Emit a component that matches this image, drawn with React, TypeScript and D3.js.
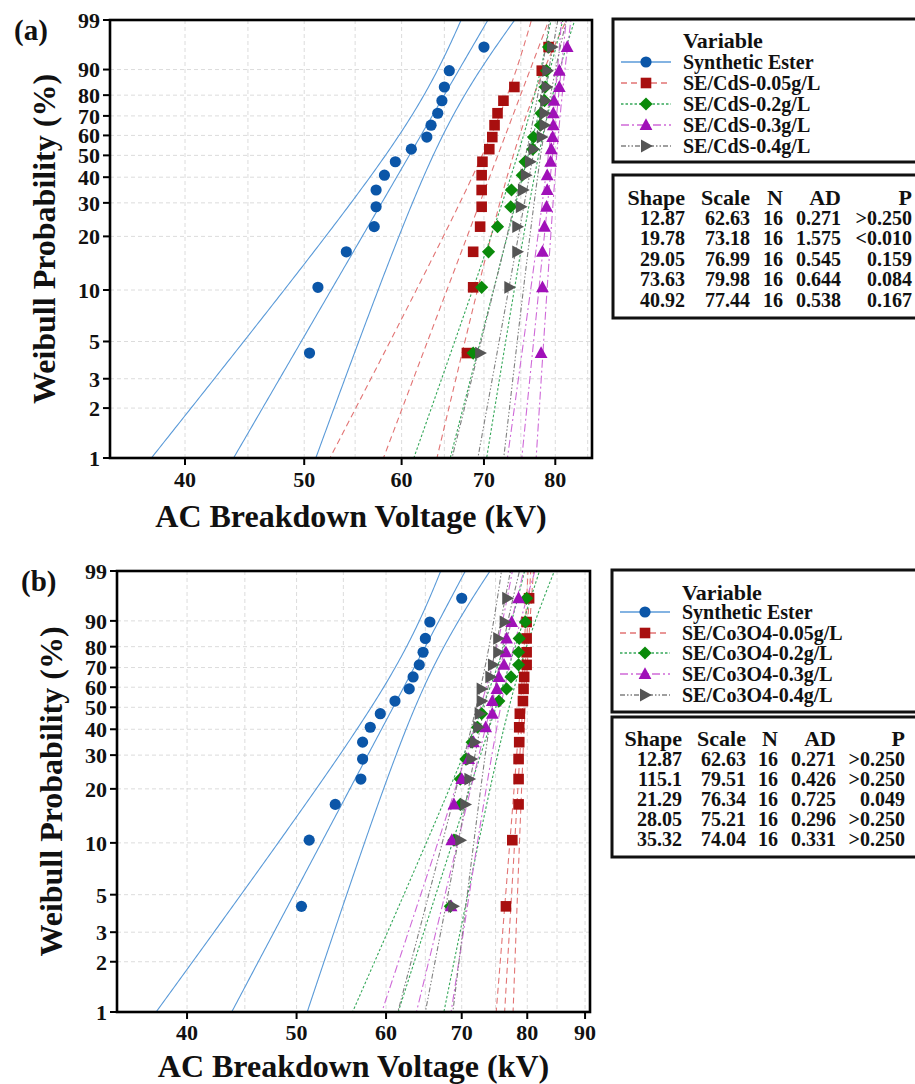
import React from 'react';
import * as d3 from 'd3';

// ---------- data ----------
const probTicks = [1, 2, 3, 5, 10, 20, 30, 40, 50, 60, 70, 80, 90, 99];
const xTicksA = [40, 50, 60, 70, 80];
const xTicksB = [40, 50, 60, 70, 80, 90];
const gridA = [40, 45, 50, 55, 60, 65, 70, 75, 80, 85];
const gridB = [40, 45, 50, 55, 60, 65, 70, 75, 80, 85, 90];

const namesA = ['Synthetic Ester', 'SE/CdS-0.05g/L', 'SE/CdS-0.2g/L', 'SE/CdS-0.3g/L', 'SE/CdS-0.4g/L'];
const namesB = ['Synthetic Ester', 'SE/Co3O4-0.05g/L', 'SE/Co3O4-0.2g/L', 'SE/Co3O4-0.3g/L', 'SE/Co3O4-0.4g/L'];

// breakdown voltages (kV), 16 shots each, sorted
const synthEster = [50.5, 51.3, 54.1, 57.0, 57.2, 57.2, 58.1, 59.3, 61.1, 62.9, 63.4, 64.2, 64.7, 65.0, 65.6, 70.0];
const cds005 = [67.8, 68.6, 68.6, 69.5, 69.7, 69.7, 69.7, 69.8, 70.7, 71.1, 71.4, 71.8, 72.6, 74.1, 78.0, 79.0];
const cds02 = [68.6, 69.7, 70.6, 71.8, 73.6, 73.7, 75.2, 75.6, 76.7, 76.8, 77.8, 77.9, 78.4, 78.5, 78.7, 79.0];
const cds03 = [77.9, 78.1, 78.1, 78.4, 78.7, 78.8, 78.8, 79.3, 79.4, 79.6, 79.7, 79.7, 79.8, 80.6, 80.6, 81.8];
const cds04 = [69.5, 73.4, 74.5, 74.5, 75.0, 75.3, 75.7, 76.3, 76.8, 78.0, 78.4, 78.4, 78.5, 78.7, 78.8, 79.5];

const co005 = [76.6, 77.6, 78.6, 78.6, 78.6, 78.7, 78.7, 78.8, 79.3, 79.4, 79.5, 79.9, 79.9, 79.9, 79.9, 80.3];
const co02 = [68.4, 68.9, 69.8, 69.8, 70.6, 71.5, 72.3, 72.9, 75.5, 76.7, 77.4, 78.6, 78.6, 78.7, 79.7, 79.9];
const co03 = [68.5, 68.6, 68.9, 70.0, 71.0, 71.7, 73.5, 74.5, 74.5, 75.2, 75.5, 76.3, 76.6, 76.7, 77.5, 78.6];
const co04 = [68.8, 69.8, 70.5, 71.1, 71.4, 71.9, 72.4, 72.6, 72.9, 72.9, 74.2, 74.6, 75.4, 75.4, 76.4, 76.8];

// fitted statistics tables
const shapeA = ['12.87', '19.78', '29.05', '73.63', '40.92'];
const scaleA = ['62.63', '73.18', '76.99', '79.98', '77.44'];
const nA = ['16', '16', '16', '16', '16'];
const adA = ['0.271', '1.575', '0.545', '0.644', '0.538'];
const pA = ['>0.250', '<0.010', '0.159', '0.084', '0.167'];

const shapeB = ['12.87', '115.1', '21.29', '28.05', '35.32'];
const scaleB = ['62.63', '79.51', '76.34', '75.21', '74.04'];
const nB = ['16', '16', '16', '16', '16'];
const adB = ['0.271', '0.426', '0.725', '0.296', '0.331'];
const pB = ['>0.250', '>0.250', '0.049', '>0.250', '>0.250'];

// ---------- styles ----------
const FONT = '"Liberation Serif", "Times New Roman", serif';
const styles = [
  { line: '#5a9ad8', mark: '#0b56a8', dash: '', sym: 'circle' },
  { line: '#e27474', mark: '#a80f0f', dash: '6,4', sym: 'square' },
  { line: '#36a85a', mark: '#0a8a0a', dash: '2.5,2', sym: 'diamond' },
  { line: '#cf6ad8', mark: '#a010b8', dash: '8,3,2,3', sym: 'triangle' },
  { line: '#808080', mark: '#555555', dash: '5,2,1.5,2,1.5,2', sym: 'right' },
];

const W = (p: number) => Math.log(-Math.log(1 - p));

function markerPath(sym: string, cx: number, cy: number) {
  switch (sym) {
    case 'circle': {
      const p = d3.path();
      p.arc(cx, cy, 5.6, 0, Math.PI * 2);
      return p.toString();
    }
    case 'square':
      return `M${cx - 5.3},${cy - 5.3}h10.6v10.6h-10.6Z`;
    case 'diamond':
      return `M${cx},${cy - 6.6}L${cx + 6.6},${cy}L${cx},${cy + 6.6}L${cx - 6.6},${cy}Z`;
    case 'triangle':
      return `M${cx},${cy - 6.8}L${cx + 6.4},${cy + 5}L${cx - 6.4},${cy + 5}Z`;
    default:
      return `M${cx + 6.8},${cy}L${cx - 5},${cy + 6.4}L${cx - 5},${cy - 6.4}Z`;
  }
}

type PanelCfg = {
  id: string;
  label: string;
  labelPos: [number, number];
  frame: { x0: number; x1: number; y0: number; y1: number };
  xDomain: [number, number];
  xTicks: number[];
  grid: number[];
  data: number[][];
  names: string[];
  shape: string[];
  scale: string[];
  n: string[];
  ad: string[];
  p: string[];
  yTitleX: number;
  xTitleY: number;
  xTickY: number;
  legend: { x: number; y: number; h: number; varY: number; rows: number[] };
  table: { y: number; h: number; rows: number[]; cols: number[] };
};

const panels: PanelCfg[] = [
  {
    id: 'a',
    label: '(a)',
    labelPos: [14, 40],
    frame: { x0: 110, x1: 592, y0: 20, y1: 458 },
    xDomain: [34.76, 85.69],
    xTicks: xTicksA,
    grid: gridA,
    data: [synthEster, cds005, cds02, cds03, cds04],
    names: namesA,
    shape: shapeA,
    scale: scaleA,
    n: nA,
    ad: adA,
    p: pA,
    yTitleX: 55,
    xTitleY: 527,
    xTickY: 487,
    legend: { x: 613, y: 19, h: 143, varY: 40, rows: [62, 83, 104, 125, 146] },
    table: { y: 175, h: 143, rows: [197, 218, 238, 259, 279, 300], cols: [685, 750, 783, 841, 912] },
  },
  {
    id: 'b',
    label: '(b)',
    labelPos: [21, 591],
    frame: { x0: 117, x1: 590, y0: 571, y1: 1012 },
    xDomain: [34.68, 90.91],
    xTicks: xTicksB,
    grid: gridB,
    data: [synthEster, co005, co02, co03, co04],
    names: namesB,
    shape: shapeB,
    scale: scaleB,
    n: nB,
    ad: adB,
    p: pB,
    yTitleX: 62,
    xTitleY: 1077,
    xTickY: 1040,
    legend: { x: 612, y: 570, h: 142, varY: 592, rows: [612, 633, 653, 674, 695] },
    table: { y: 717, h: 140, rows: [738, 759, 779, 799, 819, 839], cols: [682, 746, 778, 836, 905] },
  },
];

function Panel({ cfg }: { cfg: PanelCfg }) {
  const { frame } = cfg;
  const x = d3.scaleLog().domain(cfg.xDomain).range([frame.x0, frame.x1]);
  const y = d3.scaleLinear().domain([W(0.01), W(0.99)]).range([frame.y1, frame.y0]);
  const clipId = 'clip-' + cfg.id;
  const ws = d3.range(-4.9, 1.75, 0.04);

  const curves = cfg.data.map((_, si) => {
    const beta = parseFloat(cfg.shape[si]);
    const eta = parseFloat(cfg.scale[si]);
    const n = parseFloat(cfg.n[si]);
    const mk = (k: number) =>
      d3.line<number>()
        .x((w) => {
          const c = Math.log(eta) + w / beta;
          const sd = (1 / beta) * Math.sqrt((1.1087 + 0.6079 * w * w - 0.514 * w) / n);
          return x(Math.exp(c + k * 1.96 * sd));
        })
        .y((w) => y(w))(ws) as string;
    return [mk(-1), mk(0), mk(1)];
  });

  const txt = { fontFamily: FONT, fontWeight: 700, fill: '#111' } as const;
  const lg = cfg.legend;
  const tb = cfg.table;

  return (
    <g>
      <defs>
        <clipPath id={clipId}>
          <rect x={frame.x0} y={frame.y0} width={frame.x1 - frame.x0} height={frame.y1 - frame.y0} />
        </clipPath>
      </defs>
      {/* grid */}
      <g stroke="#dcdcdc" strokeWidth={1} strokeDasharray="4,3">
        {cfg.grid.map((g) => (
          <line key={'gx' + g} x1={x(g)} x2={x(g)} y1={frame.y0} y2={frame.y1} />
        ))}
        {probTicks.map((t) => (
          <line key={'gy' + t} x1={frame.x0} x2={frame.x1} y1={y(W(t / 100))} y2={y(W(t / 100))} />
        ))}
      </g>
      {/* fit lines and confidence bands */}
      <g clipPath={`url(#${clipId})`} fill="none">
        {curves.map((cs, si) =>
          cs.map((d, k) => (
            <path key={si + '-' + k} d={d} stroke={styles[si].line} strokeWidth={1.1} strokeDasharray={styles[si].dash || undefined} />
          ))
        )}
      </g>
      {/* points */}
      <g>
        {cfg.data.map((vals, si) =>
          vals.map((v, i) => {
            const p = (i + 1 - 0.3) / (vals.length + 0.4);
            return <path key={si + '-' + i} d={markerPath(styles[si].sym, x(v), y(W(p)))} fill={styles[si].mark} />;
          })
        )}
      </g>
      {/* frame */}
      <rect x={frame.x0} y={frame.y0} width={frame.x1 - frame.x0} height={frame.y1 - frame.y0} fill="none" stroke="#000" strokeWidth={2.6} />
      {/* y ticks */}
      {probTicks.map((t) => (
        <g key={'yt' + t}>
          <line x1={frame.x0 - 7} x2={frame.x0} y1={y(W(t / 100))} y2={y(W(t / 100))} stroke="#000" strokeWidth={2} />
          <text x={frame.x0 - 10} y={y(W(t / 100))} dy="0.36em" textAnchor="end" fontSize={22} style={txt}>
            {t}
          </text>
        </g>
      ))}
      {/* x ticks */}
      {cfg.xTicks.map((t) => (
        <g key={'xt' + t}>
          <line x1={x(t)} x2={x(t)} y1={frame.y1} y2={frame.y1 + 7} stroke="#000" strokeWidth={2} />
          <text x={x(t)} y={cfg.xTickY} textAnchor="middle" fontSize={22} style={txt}>
            {t}
          </text>
        </g>
      ))}
      {/* titles */}
      <text
        transform={`translate(${cfg.yTitleX},${(frame.y0 + frame.y1) / 2}) rotate(-90)`}
        textAnchor="middle"
        fontSize={32}
        style={txt}
      >
        Weibull Probability (%)
      </text>
      <text x={(frame.x0 + frame.x1) / 2} y={cfg.xTitleY} textAnchor="middle" fontSize={32} style={txt}>
        AC Breakdown Voltage (kV)
      </text>
      <text x={cfg.labelPos[0]} y={cfg.labelPos[1]} fontSize={29} style={txt}>
        {cfg.label}
      </text>
      {/* legend */}
      <rect x={lg.x} y={lg.y} width={320} height={lg.h} fill="#fff" stroke="#111" strokeWidth={3} />
      <text x={lg.x + 70} y={lg.varY} dy="0.35em" fontSize={22} style={txt}>
        Variable
      </text>
      {cfg.names.map((nm, si) => {
        const cy = lg.rows[si];
        return (
          <g key={'lg' + si}>
            <line x1={lg.x + 8} x2={lg.x + 58} y1={cy} y2={cy} stroke={styles[si].line} strokeWidth={1.3} strokeDasharray={styles[si].dash || undefined} />
            <path d={markerPath(styles[si].sym, lg.x + 33, cy)} fill={styles[si].mark} />
            <text x={lg.x + 70} y={cy} dy="0.35em" fontSize={20} style={txt}>
              {nm}
            </text>
          </g>
        );
      })}
      {/* stats table */}
      <rect x={lg.x} y={tb.y} width={320} height={tb.h} fill="#fff" stroke="#111" strokeWidth={3} />
      {['Shape', 'Scale', 'N', 'AD', 'P'].map((h, ci) => (
        <text key={'th' + h} x={tb.cols[ci]} y={tb.rows[0]} dy="0.35em" textAnchor="end" fontSize={22} style={txt}>
          {h}
        </text>
      ))}
      {cfg.shape.map((_, ri) =>
        [cfg.shape[ri], cfg.scale[ri], cfg.n[ri], cfg.ad[ri], cfg.p[ri]].map((s, ci) => (
          <text key={ri + '-' + ci} x={tb.cols[ci]} y={tb.rows[ri + 1]} dy="0.35em" textAnchor="end" fontSize={20} style={txt}>
            {s}
          </text>
        ))
      )}
    </g>
  );
}

export default function App() {
  return (
    <svg
      width={915}
      height={1084}
      viewBox="0 0 915 1084"
      style={{ position: 'absolute', left: 0, top: 0, background: '#fff' }}
    >
      <rect x={0} y={0} width={915} height={1084} fill="#fff" />
      {panels.map((p) => (
        <Panel key={p.id} cfg={p} />
      ))}
    </svg>
  );
}
